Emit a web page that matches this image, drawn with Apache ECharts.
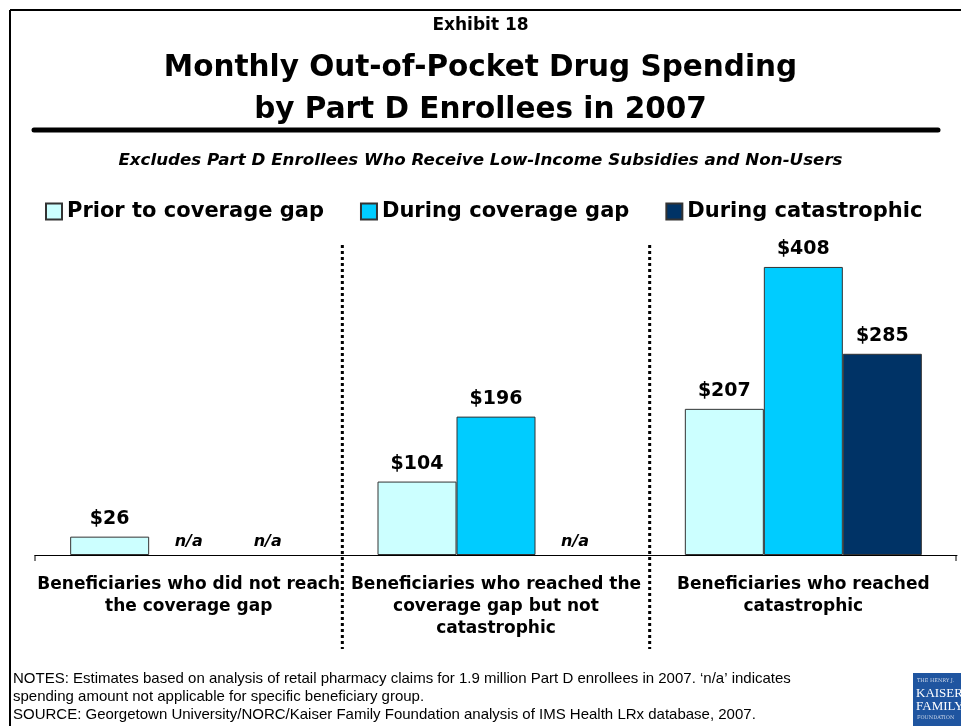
<!DOCTYPE html>
<html>
<head>
<meta charset="utf-8">
<script src="https://cdn.jsdelivr.net/npm/echarts@6/dist/echarts.min.js"></script>
<style>
  html, body { margin: 0; padding: 0; background: #fff; }
  #chart { width: 961px; height: 726px; }
</style>
</head>
<body>
<div id="chart"></div>
<script>
const groups = [
  "Beneficiaries who did not reach\nthe coverage gap",
  "Beneficiaries who reached the\ncoverage gap but not\ncatastrophic",
  "Beneficiaries who reached\ncatastrophic",
];
const seriesNames = ["Prior to coverage gap", "During coverage gap", "During catastrophic"];
// null = n/a (not applicable for that group)
const priorToGap = [26, 104, 207];
const duringGap = [null, 196, 408];
const duringCatastrophic = [null, null, 285];
const colors = ["#CCFFFF", "#00CCFF", "#003366"];

const FONT = "DejaVu Sans";

const toData = (values) =>
  values.map((v) =>
    v === null
      ? {
          value: 0,
          itemStyle: { borderWidth: 0 },
          label: { formatter: "n/a", fontStyle: "italic", fontSize: 16, distance: 5 },
        }
      : v
  );

const makeSeries = (name, values, color) => ({
  name: name,
  type: "bar",
  data: toData(values),
  barWidth: 79,
  barGap: "0%",
  itemStyle: { color: color, borderColor: "#333", borderWidth: 1 },
  label: {
    show: true,
    position: "top",
    distance: 8,
    formatter: (p) => "$" + p.value,
    color: "#000",
    fontFamily: FONT,
    fontWeight: "bold",
    fontSize: 19,
  },
});

const chart = echarts.init(document.getElementById("chart"));

const option = {
  animation: false,
  backgroundColor: "#fff",
  color: colors,
  title: [
    {
      text: "Exhibit 18",
      left: "center",
      top: 12,
      textStyle: { fontFamily: FONT, fontWeight: "bold", fontSize: 17, color: "#000" },
    },
    {
      text: "Monthly Out-of-Pocket Drug Spending\nby Part D Enrollees in 2007",
      left: "center",
      top: 42,
      textStyle: {
        fontFamily: FONT,
        fontWeight: "bold",
        fontSize: 29.5,
        lineHeight: 42,
        color: "#000",
      },
    },
    {
      text: "Excludes Part D Enrollees Who Receive Low-Income Subsidies and Non-Users",
      left: "center",
      top: 147,
      textStyle: {
        fontFamily: FONT,
        fontWeight: "bold",
        fontStyle: "italic",
        fontSize: 16.7,
        color: "#000",
      },
    },
  ],
  legend: {
    data: seriesNames,
    left: 45,
    top: 201,
    padding: 0,
    icon: "rect",
    itemWidth: 16,
    itemHeight: 16,
    itemGap: 36,
    selectedMode: false,
    textStyle: { fontFamily: FONT, fontWeight: "bold", fontSize: 21, color: "#000" },
  },
  grid: { left: 35, right: 4, top: 202, bottom: 171, containLabel: false },
  xAxis: {
    type: "category",
    data: groups,
    axisLine: { lineStyle: { color: "#000", width: 1 } },
    axisTick: { show: false },
    axisLabel: {
      interval: 0,
      margin: 19,
      color: "#000",
      fontFamily: FONT,
      fontWeight: "bold",
      fontSize: 17,
      lineHeight: 22,
      align: "center",
    },
  },
  yAxis: { type: "value", min: 0, max: 500, show: false, splitLine: { show: false } },
  series: [
    makeSeries(seriesNames[0], priorToGap, colors[0]),
    makeSeries(seriesNames[1], duringGap, colors[1]),
    makeSeries(seriesNames[2], duringCatastrophic, colors[2]),
  ],
};

chart.setOption(option);

// decorations: frame, title rule, group dividers, notes, logo
const x0 = chart.convertToPixel({ xAxisIndex: 0 }, 0);
const x1 = chart.convertToPixel({ xAxisIndex: 0 }, 1);
const x2 = chart.convertToPixel({ xAxisIndex: 0 }, 2);
const baseY = chart.convertToPixel({ yAxisIndex: 0 }, 0);
const half = (x1 - x0) / 2;
const axisLeft = x0 - half;
const axisRight = x2 + half;

const notes = [
  "NOTES: Estimates based on analysis of retail pharmacy claims for 1.9 million Part D enrollees in 2007. \u2018n/a\u2019 indicates",
  "spending amount not applicable for specific beneficiary group.",
  "SOURCE: Georgetown University/NORC/Kaiser Family Foundation analysis of IMS Health LRx database, 2007.",
];

const divider = (x) => ({
  type: "line",
  shape: { x1: x, y1: 245, x2: x, y2: 649 },
  style: { stroke: "#000", lineWidth: 3, lineDash: [3, 3] },
});

chart.setOption({
  graphic: [
    { type: "line", shape: { x1: 10, y1: 10, x2: 961, y2: 10 }, style: { stroke: "#000", lineWidth: 2 } },
    { type: "line", shape: { x1: 10, y1: 10, x2: 10, y2: 726 }, style: { stroke: "#000", lineWidth: 2 } },
    {
      type: "line",
      shape: { x1: 34, y1: 130, x2: 938, y2: 130 },
      style: { stroke: "#000", lineWidth: 5, lineCap: "round" },
    },
    divider(x0 + half),
    divider(x1 + half),
    { type: "line", shape: { x1: axisLeft, y1: baseY, x2: axisLeft, y2: baseY + 6 }, style: { stroke: "#000", lineWidth: 1 } },
    { type: "line", shape: { x1: axisRight - 1, y1: baseY, x2: axisRight - 1, y2: baseY + 6 }, style: { stroke: "#000", lineWidth: 1 } },
    ...notes.map((t, i) => ({
      type: "text",
      left: 13,
      top: 671 + i * 18,
      style: { text: t, font: "15px 'Liberation Sans'", fill: "#000" },
    })),
    {
      type: "group",
      left: 913,
      top: 673,
      children: [
        { type: "rect", shape: { x: 0, y: 0, width: 48, height: 53 }, style: { fill: "#1f55a0" } },
        { type: "text", x: 4, y: 5, style: { text: "THE HENRY J.", font: "5px 'DejaVu Serif'", fill: "#cfd9ea" } },
        { type: "text", x: 3, y: 14, style: { text: "KAISER", font: "13px 'Liberation Serif'", fill: "#fff" } },
        { type: "text", x: 3, y: 27, style: { text: "FAMILY", font: "13px 'Liberation Serif'", fill: "#fff" } },
        { type: "text", x: 4, y: 42, style: { text: "FOUNDATION", font: "5px 'DejaVu Serif'", fill: "#cfd9ea" } },
      ],
    },
  ],
});
</script>
</body>
</html>
